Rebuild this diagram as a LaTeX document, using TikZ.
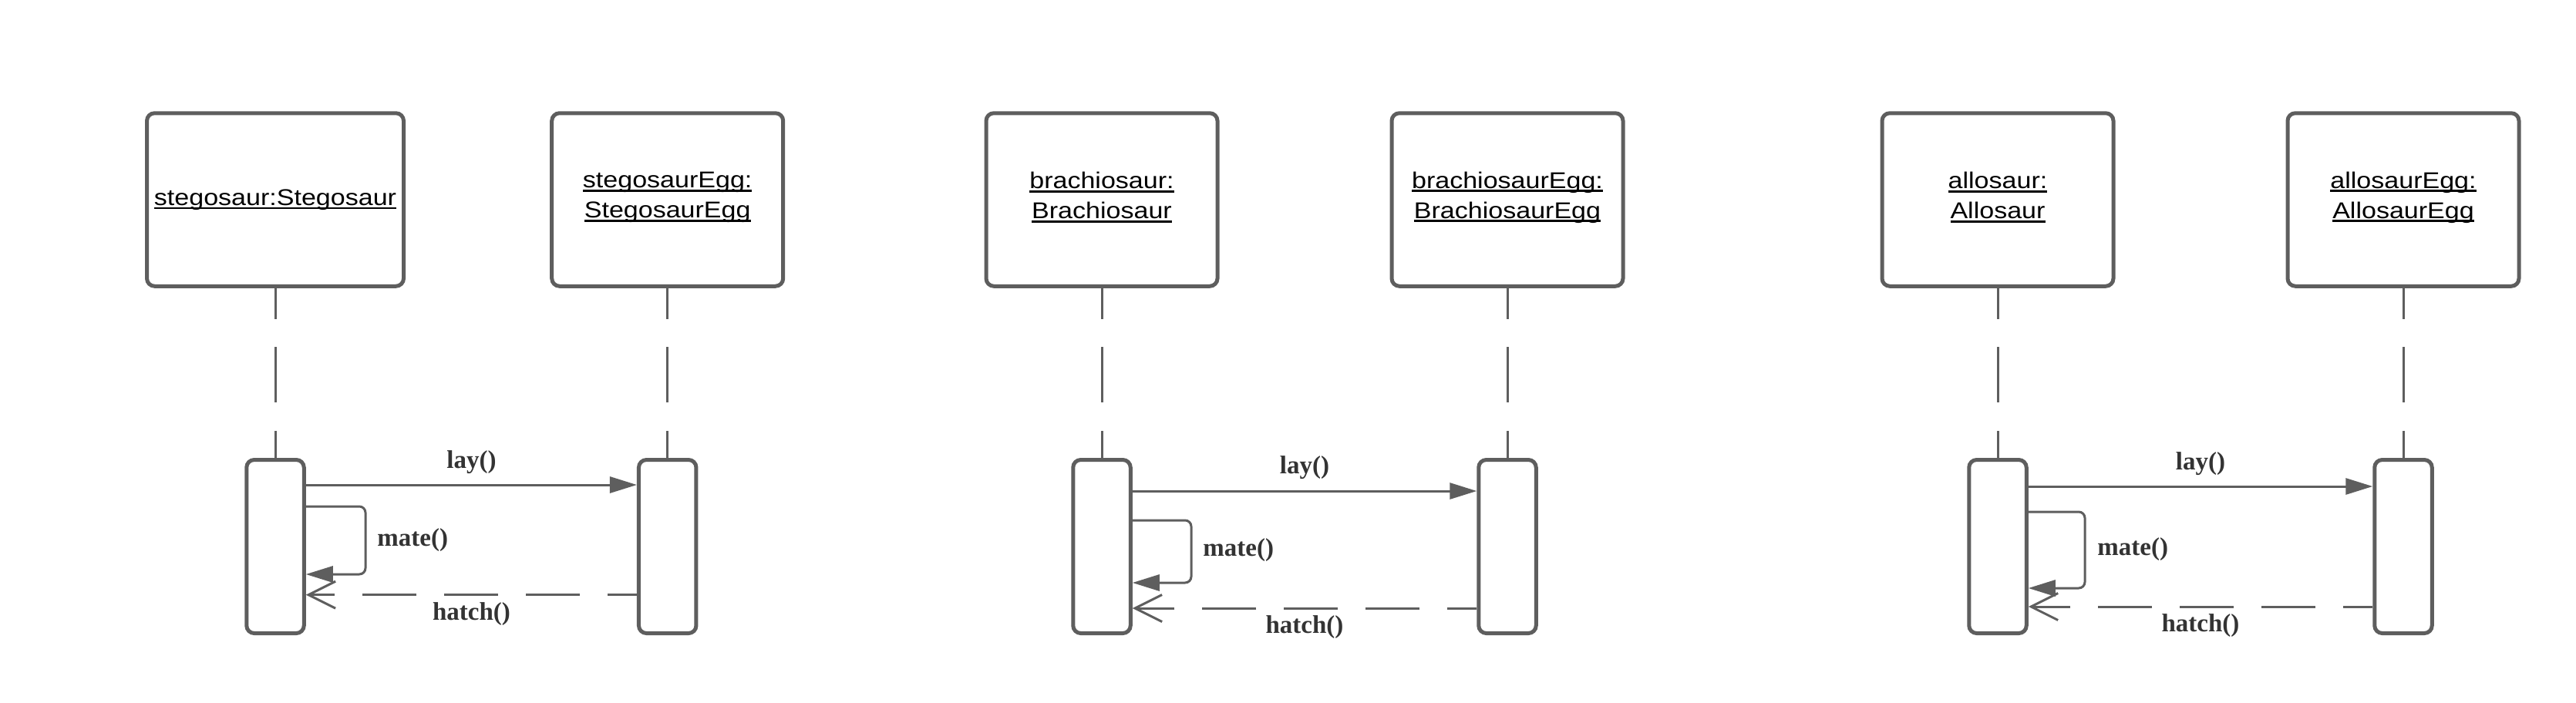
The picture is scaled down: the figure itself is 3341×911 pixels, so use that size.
\documentclass[tikz,border=0pt]{standalone}
\usepackage{fontspec}
\setmainfont{Liberation Sans}
\newfontfamily\boxfont[FakeStretch=1.15]{Liberation Sans}
\newfontfamily\labfont{Liberation Serif}
\usetikzlibrary{arrows.meta,calc}
\definecolor{ln}{HTML}{5E5E5E}
\definecolor{lb}{HTML}{333333}
\newcommand\ulx[1]{\setbox0=\hbox{#1}\rlap{\rule[-2.5pt]{\wd0}{1.35pt}}\box0}
\begin{document}
\begin{tikzpicture}[x=0.5pt,y=-0.5pt,
 objbox/.style={draw=ln, line width=2.5pt, rounded corners=5pt, minimum height=112.25pt, minimum width=150pt, inner sep=0pt, align=center, font=\boxfont\fontsize{14.8}{19.5}\selectfont, text=black},
 actbox/.style={draw=ln, line width=2.5pt, rounded corners=5pt, minimum width=37.25pt, minimum height=112.5pt, inner sep=0pt},
 lifeline/.style={draw=ln, line width=1.5pt, dash pattern=on 36pt off 18.3pt, dash phase=16pt},
 msg/.style={draw=ln, line width=1.5pt, -{Triangle[length=17.5pt,width=10.5pt]}},
 selfmsg/.style={draw=ln, line width=1.5pt, rounded corners=4pt, -{Triangle[length=17.5pt,width=10.5pt]}},
 reply/.style={draw=ln, line width=1.5pt, dash pattern=on 35pt off 18pt, dash phase=16pt, -{Straight Barb[length=17.5pt,width=17.5pt]}},
 lbl/.style={font=\labfont\bfseries\fontsize{16.5}{19}\selectfont, text=lb, inner sep=0pt}
]
\useasboundingbox (0,0) rectangle (3341,911);
\fill[white] (0,0) rectangle (3341,911);

% ---------- group 1 ----------
\node[objbox, minimum width=166.5pt] (A) at (357,259) {\ulx{stegosaur:Stegosaur}\vspace{3pt}};
\node[objbox] (B) at (865.7,259) {\ulx{stegosaurEgg:}\\\ulx{StegosaurEgg}\vspace{3pt}};
\node[actbox] (aA) at (357,709) {};
\node[actbox] (aB) at (865.7,709) {};
\draw[lifeline] (A.south) -- (aA.north);
\draw[lifeline] (B.south) -- (aB.north);
\draw[msg] (aA.east |- 0,629) -- (aB.west |- 0,629);
\draw[selfmsg] (aA.east |- 0,657) -- (474,657) -- (474,745) -- (aA.east |- 0,745);
\draw[reply] (aB.west |- 0,771.7) -- (aA.east |- 0,771.7);
\node[lbl] (lay1) at (611.5,600) {lay()};
\node[lbl, anchor=west] (mate1) at (489,701) {mate()};
\node[lbl] (hatch1) at (611.5,797) {hatch()};

% ---------- group 2 ----------
\node[objbox] (C) at (1429,259) {\ulx{brachiosaur:}\\\ulx{Brachiosaur}\vspace{3pt}};
\node[objbox] (D) at (1955,259) {\ulx{brachiosaurEgg:}\\\ulx{BrachiosaurEgg}\vspace{3pt}};
\node[actbox] (aC) at (1429,709) {};
\node[actbox] (aD) at (1955,709) {};
\draw[lifeline] (C.south) -- (aC.north);
\draw[lifeline] (D.south) -- (aD.north);
\draw[msg] (aC.east |- 0,637) -- (aD.west |- 0,637);
\draw[selfmsg] (aC.east |- 0,675) -- (1545,675) -- (1545,756) -- (aC.east |- 0,756);
\draw[reply] (aD.west |- 0,789) -- (aC.east |- 0,789);
\node[lbl] (lay2) at (1692,607) {lay()};
\node[lbl, anchor=west] (mate2) at (1560,714) {mate()};
\node[lbl] (hatch2) at (1692,814) {hatch()};

% ---------- group 3 ----------
\node[objbox] (E) at (2591,259) {\ulx{allosaur:}\\\ulx{Allosaur}\vspace{3pt}};
\node[objbox] (F) at (3117,259) {\ulx{allosaurEgg:}\\\ulx{AllosaurEgg}\vspace{3pt}};
\node[actbox] (aE) at (2591,709) {};
\node[actbox] (aF) at (3117,709) {};
\draw[lifeline] (E.south) -- (aE.north);
\draw[lifeline] (F.south) -- (aF.north);
\draw[msg] (aE.east |- 0,631) -- (aF.west |- 0,631);
\draw[selfmsg] (aE.east |- 0,664) -- (2704,664) -- (2704,763) -- (aE.east |- 0,763);
\draw[reply] (aF.west |- 0,787) -- (aE.east |- 0,787);
\node[lbl] (lay3) at (2854,602) {lay()};
\node[lbl, anchor=west] (mate3) at (2720,713) {mate()};
\node[lbl] (hatch3) at (2854,812) {hatch()};
\end{tikzpicture}
\end{document}
